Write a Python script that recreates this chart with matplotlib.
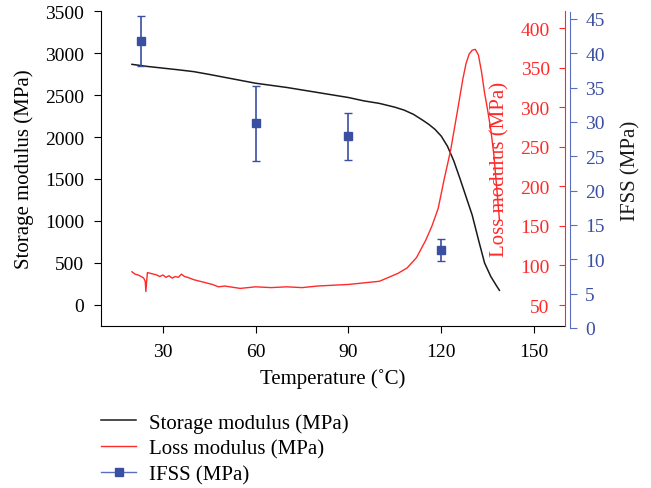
import matplotlib
matplotlib.use("Agg")
import matplotlib.pyplot as plt
from matplotlib.lines import Line2D

plt.rcParams['font.family'] = ['Liberation Serif', 'DejaVu Serif']

# storage modulus (black)
temp_e = [20, 25, 30, 35, 40, 45, 50, 55, 60, 65, 70, 75, 80, 85, 90, 95, 100,
          105, 108, 111, 114, 116, 118, 120, 122, 124, 126, 128, 130, 132, 134, 136, 138, 138.8]
storage = [2865, 2840, 2820, 2800, 2778, 2745, 2710, 2675, 2640, 2615, 2590, 2560,
           2530, 2500, 2470, 2430, 2400, 2355, 2320, 2270, 2200, 2150, 2090, 2010, 1890,
           1720, 1510, 1290, 1070, 780, 500, 340, 220, 175]

# loss modulus (red)
temp_l = [20, 21, 22, 23, 23.8, 24.3, 24.5, 25, 26, 27, 28, 29, 30, 31, 32, 33, 34,
          35, 36, 37, 38, 40, 43, 46, 48, 50, 55, 60, 65, 70, 75, 80, 85, 90, 95, 100,
          103, 106, 109, 112, 115, 117, 119, 121, 123, 125, 127, 128, 129, 130, 131, 132,
          133, 134, 135, 136, 137, 138, 138.8]
loss = [92, 89, 88, 86, 84, 80, 67, 91, 90, 89, 88, 86, 88, 85, 87, 84, 86,
        85, 89, 86, 85, 82, 79, 76, 73, 74, 71, 73, 72, 73, 72, 74, 75, 76, 78, 80,
        85, 90, 97, 110, 132, 150, 172, 210, 245, 290, 336, 355, 367, 372, 373, 366,
        345, 318, 296, 272, 240, 195, 158]

# IFSS (blue)
temp_i = [23, 60, 90, 120]
ifss = [41.8, 29.8, 27.9, 11.3]
ifss_err = [3.6, 5.5, 3.4, 1.6]

RED = "#ff2a2a"
BLUE = "#3a4ea2"
BLUE_AX = "#5a6fc0"
FS_T = 14
FS_L = 15

fig = plt.figure(figsize=(6.51, 4.89), dpi=100)
W, H = 651, 489
pos = [101 / W, (H - 327) / H, 464 / W, 315 / H]

ax1 = fig.add_axes(pos)
ax1.plot(temp_e, storage, color="#1a1a1a", lw=1.1)
ax1.set_xlim(10, 160)
ax1.set_ylim(-250, 3500)
ax1.set_xticks([30, 60, 90, 120, 150])
ax1.set_yticks(range(0, 3501, 500))
for s in ["top", "right"]:
    ax1.spines[s].set_visible(False)
ax1.tick_params(direction="out", length=5, width=0.8, labelsize=FS_T, pad=7)
ax1.set_xlabel("Temperature (˚C)", fontsize=FS_L, labelpad=6)
ax1.set_ylabel("Storage modulus (MPa)", fontsize=FS_L, labelpad=8)

# red axis: spine at the right edge, ticks and labels inside
ax2 = fig.add_axes(pos, facecolor="none")
ax2.plot(temp_l, loss, color=RED, lw=1.0)
ax2.set_xlim(10, 160)
ax2.set_ylim(23.5, 421.5)
ax2.set_xticks([])
for s in ["top", "right", "bottom"]:
    ax2.spines[s].set_visible(False)
ax2.spines["left"].set_position(("axes", 1.0))
ax2.spines["left"].set_color(RED)
ax2.yaxis.set_ticks_position("left")
ax2.set_yticks(range(50, 401, 50))
ax2.tick_params(axis="y", direction="out", length=4, width=0.8, colors=RED,
                labelsize=FS_T, pad=7)
ax2.set_ylabel("Loss modulus (MPa)", fontsize=FS_L, color=RED, labelpad=8)

# blue axis
ax3 = fig.add_axes([101 / W, (H - 329) / H, 464 / W, 316 / H], facecolor="none")
ax3.errorbar(temp_i, ifss, yerr=ifss_err, fmt="s", color=BLUE, ms=6,
             ecolor=BLUE, elinewidth=1.2, capsize=3, capthick=1.0)
ax3.set_xlim(10, 160)
ax3.set_ylim(0, 46)
ax3.set_xticks([])
for s in ["top", "left", "bottom"]:
    ax3.spines[s].set_visible(False)
ax3.spines["right"].set_position(("outward", 3.6))
ax3.spines["right"].set_color(BLUE_AX)
ax3.yaxis.set_ticks_position("right")
ax3.yaxis.set_label_position("right")
ax3.set_yticks(range(0, 46, 5))
ax3.tick_params(axis="y", direction="out", length=5, width=0.8, color=BLUE_AX,
                labelcolor=BLUE, labelsize=FS_T, pad=6)
ax3.set_ylabel("IFSS (MPa)", fontsize=FS_L, color="#1a1a1a", labelpad=12)

handles = [Line2D([], [], color="#1a1a1a", lw=1.1),
           Line2D([], [], color=RED, lw=1.0),
           Line2D([], [], color=BLUE_AX, lw=1.0, marker="s", ms=6,
                  markerfacecolor=BLUE, markeredgecolor=BLUE)]
labels = ["Storage modulus (MPa)", "Loss modulus (MPa)", "IFSS (MPa)"]
fig.legend(handles, labels, loc="upper left", bbox_to_anchor=(101 / W, (H - 414) / H),
           frameon=False, fontsize=FS_L, handlelength=1.7, handletextpad=0.6,
           labelspacing=0.3, borderpad=0, borderaxespad=0)

fig.savefig("out.png", dpi=100)
